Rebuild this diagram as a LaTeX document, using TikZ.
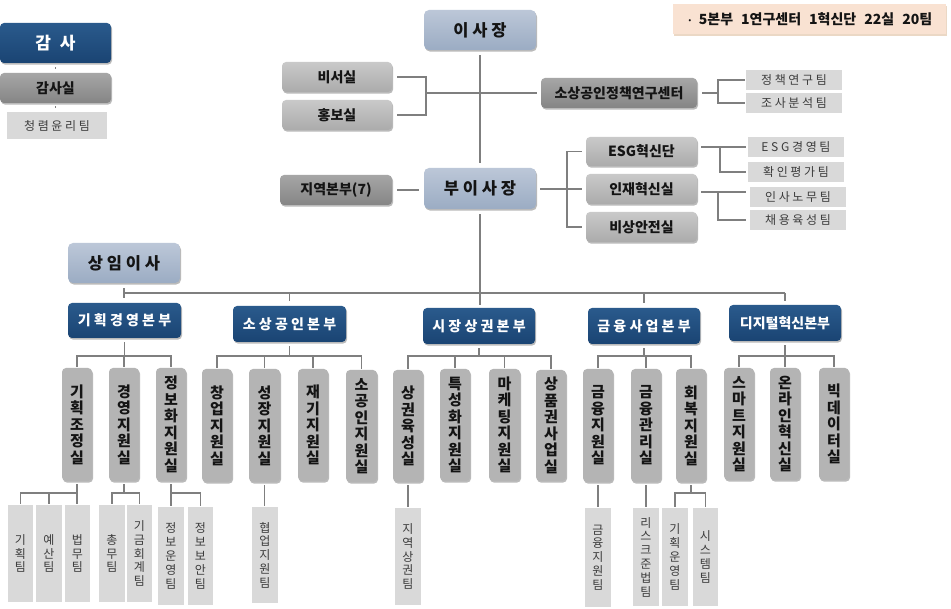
\documentclass[tikz,border=0pt]{standalone}
\usepackage{fontspec}
\setmainfont{Noto Sans CJK KR}
\usetikzlibrary{shadows}
\definecolor{lineC}{HTML}{7F7F7F}
\definecolor{blueT}{HTML}{2A5A8C}
\definecolor{blueB}{HTML}{1A4473}
\definecolor{lbT}{HTML}{BCC7D8}
\definecolor{lbB}{HTML}{9BACC3}
\definecolor{gmT}{HTML}{C9C9C9}
\definecolor{gmB}{HTML}{ABABAB}
\definecolor{gdT}{HTML}{A6A6A6}
\definecolor{gdB}{HTML}{858585}
\definecolor{roomC}{HTML}{B4B4B4}
\definecolor{teamC}{HTML}{D9D9D9}
\definecolor{txtD}{HTML}{141414}
\definecolor{txtG}{HTML}{3C3C3C}
\definecolor{peach}{HTML}{F9E2D2}
\newcommand\mybox[7]{\node[#1,minimum width={#5-#3},minimum height={#6-#4}] (#2) at ({(#3+#5)/2},{(#4+#6)/2}) {#7};}
\tikzset{
  ln/.style={draw=lineC,line width=1.5pt},
  sh/.style={drop shadow={shadow xshift=1pt,shadow yshift=-1.6pt,opacity=.45,fill=black!60}},
  bluebox/.style={sh,rounded corners=4pt,top color=blueT,bottom color=blueB,text=white,inner sep=0pt,font=\bfseries\fontsize{14}{16}\selectfont},
  chiefbox/.style={sh,rounded corners=5pt,top color=lbT,bottom color=lbB,text=txtD,inner sep=0pt,font=\bfseries\fontsize{16.5}{18}\selectfont},
  midbox/.style={sh,rounded corners=4pt,top color=gmT,bottom color=gmB,text=txtD,inner sep=0pt,font=\bfseries\fontsize{14}{16}\selectfont},
  darkbox/.style={sh,rounded corners=4pt,top color=gdT,bottom color=gdB,text=txtD,inner sep=0pt,font=\bfseries\fontsize{14}{16}\selectfont},
  roombox/.style={sh,rounded corners=4pt,fill=roomC,text=txtD,inner sep=0pt,align=center,font=\bfseries\fontsize{15}{16.5}\selectfont},
  teamv/.style={fill=teamC,text=txtG,inner sep=0pt,align=center,font=\fontsize{12}{13.8}\selectfont},
  teamh/.style={fill=teamC,text=txtG,inner sep=0pt,font=\fontsize{12}{14}\selectfont},
  sumbox/.style={drop shadow={shadow xshift=1pt,shadow yshift=-1.6pt,opacity=.5,fill=brown!60},fill=peach,text=txtD,inner sep=0pt,font=\bfseries\fontsize{14}{16}\selectfont},
}
\begin{document}
\begin{tikzpicture}[x=1pt,y=-1pt]
\fill[white] (0,0) rectangle (951,609);
\useasboundingbox (0,0) rectangle (951,609);
% top-left
\mybox{bluebox,font=\bfseries\fontsize{17}{19}\selectfont}{gamsa}{0}{23}{111}{63}{감\hspace{9pt}사}
\mybox{darkbox}{gamsasil}{0}{73}{111}{103}{감사실}
\mybox{teamh}{cheong}{7}{112}{107}{139}{청 렴 윤 리 팀}
% summary
\mybox{sumbox}{summary}{673}{4}{946}{34}{{\fontsize{10}{12}\selectfont·}\hspace{6pt}5본부\hspace{8pt}1연구센터\hspace{8pt}1혁신단\hspace{8pt}22실\hspace{8pt}20팀}
% top center
\mybox{chiefbox}{isajang}{424}{10}{536}{50}{이 사 장}
\mybox{midbox}{biseo}{282}{62}{392}{92}{비서실}
\mybox{midbox}{hongbo}{282}{100}{392}{130}{홍보실}
\mybox{darkbox}{center}{541}{78}{697}{108}{소상공인정책연구센터}
\mybox{teamh}{jeongchaek}{746}{70}{842}{90}{정 책 연 구 팀}
\mybox{teamh}{josa}{746}{93}{842}{113}{조 사 분 석 팀}
\mybox{chiefbox}{busajang}{424}{168}{536}{209}{부 이 사 장}
\mybox{darkbox}{jiyeok}{280}{175}{392}{205}{지역본부(7)}
\mybox{midbox}{esg}{586}{137}{697}{166}{ESG혁신단}
\mybox{midbox}{injae}{586}{174}{697}{204}{인재혁신실}
\mybox{midbox}{bisang}{586}{212}{697}{242}{비상안전실}
\mybox{teamh}{esgteam}{748}{137}{844}{157}{E S G 경 영 팀}
\mybox{teamh}{hwagin}{748}{162}{844}{182}{확 인 평 가 팀}
\mybox{teamh}{insa}{750}{187}{846}{207}{인 사 노 무 팀}
\mybox{teamh}{chaeyong}{750}{210}{846}{230}{채 용 육 성 팀}
\mybox{chiefbox}{sangim}{68}{243}{180}{283}{상 임 이 사}
% divisions
\mybox{bluebox}{gihoek}{68}{303}{181}{338}{기 획 경 영 본 부}
\mybox{bluebox}{sosang}{233}{306}{346}{342}{소 상 공 인 본 부}
\mybox{bluebox}{sijang}{423}{308}{535}{344}{시 장 상 권 본 부}
\mybox{bluebox}{geumyung}{588}{308}{700}{344}{금 융 사 업 본 부}
\mybox{bluebox}{digital}{729}{305}{841}{341}{디지털혁신본부}
% rooms
\mybox{roombox}{gijo}{62}{368}{92}{481}{기\\획\\조\\정\\실}
\mybox{roombox}{gyeongji}{109}{368}{139}{481}{경\\영\\지\\원\\실}
\mybox{roombox}{jeongbo}{156}{368}{186}{481}{정\\보\\화\\지\\원\\실}
\mybox{roombox}{changeop}{202}{369}{232}{482}{창\\업\\지\\원\\실}
\mybox{roombox}{seongjang}{249}{369}{280}{482}{성\\장\\지\\원\\실}
\mybox{roombox}{jaegi}{298}{369}{328}{481}{재\\기\\지\\원\\실}
\mybox{roombox}{sogong}{346}{370}{377}{482}{소\\공\\인\\지\\원\\실}
\mybox{roombox}{sangwon}{393}{370}{423}{482}{상\\권\\육\\성\\실}
\mybox{roombox}{teukseong}{440}{369}{470}{481}{특\\성\\화\\지\\원\\실}
\mybox{roombox}{maketing}{489}{369}{520}{481}{마\\케\\팅\\지\\원\\실}
\mybox{roombox}{sangpum}{536}{370}{566}{481}{상\\품\\권\\사\\업\\실}
\mybox{roombox}{geumji}{583}{369}{613}{482}{금\\융\\지\\원\\실}
\mybox{roombox}{geumgwan}{631}{369}{661}{482}{금\\융\\관\\리\\실}
\mybox{roombox}{hoebok}{676}{369}{706}{482}{회\\복\\지\\원\\실}
\mybox{roombox}{smart}{724}{368}{754}{480}{스\\마\\트\\지\\원\\실}
\mybox{roombox}{online}{770}{368}{800}{480}{온\\라\\인\\혁\\신\\실}
\mybox{roombox}{bigdata}{819}{368}{849}{480}{빅\\데\\이\\터\\실}
% teams
\mybox{teamv}{tgihoek}{8}{505}{33}{602}{기\\획\\팀}
\mybox{teamv}{tyesan}{36}{505}{62}{602}{예\\산\\팀}
\mybox{teamv}{tbeopmu}{65}{505}{90}{602}{법\\무\\팀}
\mybox{teamv}{tchongmu}{99}{505}{125}{602}{총\\무\\팀}
\mybox{teamv}{tgigeum}{127}{505}{152}{602}{기\\금\\회\\계\\팀}
\mybox{teamv}{tjeongun}{158}{507}{184}{605}{정\\보\\운\\영\\팀}
\mybox{teamv}{tjeongan}{188}{507}{213}{605}{정\\보\\보\\안\\팀}
\mybox{teamv}{thyeob}{252}{507}{278}{603}{협\\업\\지\\원\\팀}
\mybox{teamv}{tjiyeok}{395}{508}{421}{605}{지\\역\\상\\권\\팀}
\mybox{teamv}{tgeumji}{585}{508}{611}{607}{금\\융\\지\\원\\팀}
\mybox{teamv}{trisk}{633}{508}{659}{606}{리\\스\\크\\준\\법\\팀}
\mybox{teamv}{tgihoekun}{662}{508}{688}{606}{기\\획\\운\\영\\팀}
\mybox{teamv}{tsystem}{693}{508}{718}{606}{시\\스\\템\\팀}
% ---------- connectors ----------
\draw[ln,shorten <=4pt,shorten >=4pt] (gamsa.south) -- (gamsa.south |- gamsasil.north);
\draw[ln,shorten <=3pt,shorten >=4pt] (gamsasil.south) -- (gamsasil.south |- cheong.north);
\draw[ln,shorten <=5pt,shorten >=5pt] (isajang.south) -- (isajang.south |- busajang.north);
\coordinate (b1) at (426,93);
\draw[ln,shorten <=5pt,shorten >=5pt] (biseo.east) -| (b1) |- (hongbo.east);
\draw[ln,shorten >=4pt] (b1) -- (center.west);
\coordinate (c1) at (718,93);
\draw[ln,shorten <=5pt] (center.east) -- (c1);
\draw[ln,shorten <=1pt,shorten >=1pt] (jeongchaek.west) -| (c1) |- (josa.west);
\draw[ln,shorten <=5pt,shorten >=5pt] (jiyeok.east) -- (jiyeok.east -| busajang.west);
\coordinate (c2) at (567,189);
\draw[ln,shorten <=4pt] (busajang.east |- c2) -- (c2);
\draw[ln,shorten <=4pt,shorten >=4pt] (esg.west) -| (c2) |- (bisang.west);
\draw[ln,shorten >=4pt] (c2) -- (injae.west);
\draw[ln,shorten <=4pt,shorten >=2pt] (esg.east |- esgteam.west) -- (esgteam.west);
\coordinate (c3) at (720,147);
\draw[ln,shorten >=2pt] (c3) |- (hwagin.west);
\coordinate (c4) at (718,192);
\draw[ln,shorten <=4pt,shorten >=4pt] (injae.east |- c4) -- (c4 -| insa.west);
\draw[ln,shorten >=4pt] (c4) |- (chaeyong.west);
% main bus
\coordinate (busy) at (0,293);
\draw[ln] (sangim.south |- busy) -- (digital.north |- busy);
\draw[ln,shorten <=5pt,shorten >=5pt] (sangim.south) -- (sangim.south |- gihoek.north);
\draw[ln,shorten <=5pt,shorten >=3pt] (busajang.south) -- (busajang.south |- sijang.north);
\draw[ln,shorten >=5pt] (sosang.north |- busy) -- (sosang.north);
\draw[ln,shorten >=5pt] (geumyung.north |- busy) -- (geumyung.north);
\draw[ln,shorten >=4pt] (digital.north |- busy) -- (digital.north);
% division buses
\coordinate (rb) at (0,356);
\draw[ln,shorten <=4pt] (gihoek.south) -- (gihoek.south |- rb);
\draw[ln,shorten <=1pt,shorten >=1pt] (gijo.north) |- (gihoek.south |- rb) -| (jeongbo.north);
\draw[ln,shorten >=1pt] (gyeongji.north |- rb) -- (gyeongji.north);
\draw[ln,shorten <=4pt] (sosang.south) -- (sosang.south |- rb);
\draw[ln,shorten <=1pt,shorten >=1pt] (changeop.north) |- (sosang.south |- rb) -| (sogong.north);
\draw[ln,shorten >=1pt] (seongjang.north |- rb) -- (seongjang.north);
\draw[ln,shorten >=1pt] (jaegi.north |- rb) -- (jaegi.north);
\draw[ln,shorten <=4pt] (sijang.south) -- (sijang.south |- rb);
\draw[ln,shorten <=1pt,shorten >=1pt] (sangwon.north) |- (sijang.south |- rb) -| (sangpum.north);
\draw[ln,shorten >=1pt] (teukseong.north |- rb) -- (teukseong.north);
\draw[ln,shorten >=1pt] (maketing.north |- rb) -- (maketing.north);
\draw[ln,shorten <=4pt] (geumyung.south) -- (geumyung.south |- rb);
\draw[ln,shorten <=1pt,shorten >=1pt] (geumji.north) |- (geumyung.south |- rb) -| (hoebok.north);
\draw[ln,shorten >=1pt] (geumgwan.north |- rb) -- (geumgwan.north);
\draw[ln,shorten <=4pt] (digital.south) -- (digital.south |- rb);
\draw[ln,shorten <=1pt,shorten >=1pt] (smart.north) |- (digital.south |- rb) -| (bigdata.north);
\draw[ln,shorten >=1pt] (online.north |- rb) -- (online.north);
% team buses
\coordinate (tb) at (0,493);
\draw[ln,shorten <=3pt,shorten >=1pt] (gijo.south) -- (gijo.south |- tbeopmu.north);
\draw[ln,shorten <=1pt] (tgihoek.north) |- (gijo.south |- tb);
\draw[ln,shorten >=1pt] (tyesan.north |- tb) -- (tyesan.north);
\draw[ln,shorten <=3pt] (gyeongji.south) -- (gyeongji.south |- tb);
\draw[ln,shorten <=1pt,shorten >=1pt] (tchongmu.north) |- (gyeongji.south |- tb) -| (tgigeum.north);
\draw[ln,shorten <=3pt,shorten >=1pt] (jeongbo.south) -- (jeongbo.south |- tjeongun.north);
\draw[ln,shorten >=1pt] (jeongbo.south |- tb) -| (tjeongan.north);
\draw[ln,shorten <=3pt,shorten >=1pt] (seongjang.south) -- (seongjang.south |- thyeob.north);
\draw[ln,shorten <=3pt,shorten >=1pt] (sangwon.south) -- (sangwon.south |- tjiyeok.north);
\draw[ln,shorten <=3pt,shorten >=1pt] (geumji.south) -- (geumji.south |- tgeumji.north);
\draw[ln,shorten <=3pt,shorten >=1pt] (geumgwan.south) -- (geumgwan.south |- trisk.north);
\draw[ln,shorten <=3pt] (hoebok.south) -- (hoebok.south |- tb);
\draw[ln,shorten <=1pt,shorten >=1pt] (tgihoekun.north) |- (hoebok.south |- tb) -| (tsystem.north);
\end{tikzpicture}
\end{document}
